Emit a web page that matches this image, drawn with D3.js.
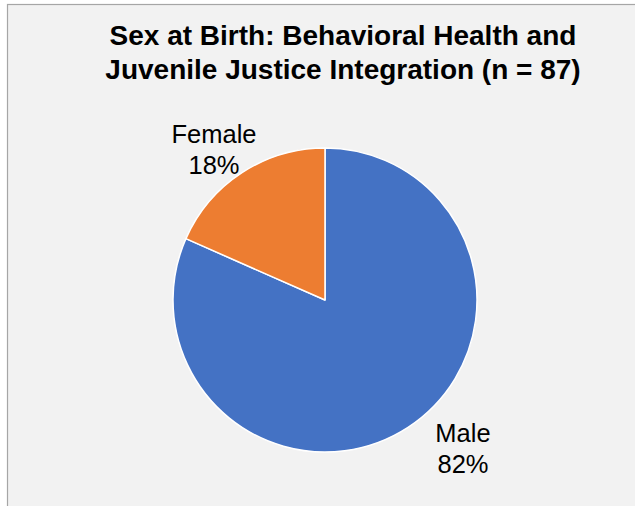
<!DOCTYPE html>
<html>
<head>
<meta charset="utf-8">
<script src="https://cdn.jsdelivr.net/npm/d3@7"></script>
<style>
  html, body { margin: 0; padding: 0; background: #ffffff; }
  svg { display: block; }
</style>
</head>
<body>
<svg id="chart" width="635" height="506"></svg>
<script>
// chart data (n = 87)
const categories = ["Male", "Female"]
const counts = [71, 16]
const colors = ["#4472c4", "#ed7d31"]
const titleLines = ["Sex at Birth: Behavioral Health and", "Juvenile Justice Integration (n = 87)"]

const width = 635, height = 506
const svg = d3.select("#chart")

// background panel with border (runs off right & bottom edge)
svg.append("rect")
    .attr("x", 7.5).attr("y", 4.5)
    .attr("width", width).attr("height", height)
    .attr("fill", "#f2f2f2")
    .attr("stroke", "#a6a6a6")
    .attr("stroke-width", 1.2)

// title
svg.append("text")
    .attr("x", 343).attr("y", 45)
    .attr("text-anchor", "middle")
    .style("font-family", "Liberation Sans, Arial, sans-serif")
    .style("font-weight", "bold")
    .style("font-size", "28px")
    .attr("fill", "#000")
    .selectAll("tspan")
    .data(titleLines)
    .enter()
    .append("tspan")
    .attr("x", 343)
    .attr("dy", (d, i) => i === 0 ? 0 : 33.5)
    .text(d => d)

// pie
const cx = 325, cy = 300, radius = 152
const total = d3.sum(counts)
const data = categories.map((c, i) => ({label: c, value: counts[i], color: colors[i]}))

const pie = d3.pie()
    .value(d => d.value)
    .sort(null)

const arc = d3.arc()
    .innerRadius(0)
    .outerRadius(radius)

const g = svg.append("g")
    .attr("transform", `translate(${cx},${cy})`)

g.selectAll("path")
    .data(pie(data))
    .enter()
    .append("path")
    .attr("d", arc)
    .attr("fill", d => d.data.color)
    .attr("stroke", "#ffffff")
    .attr("stroke-width", 1.5)
    .attr("stroke-linejoin", "round")

// outside labels (positioned like the original, outside the slices)
const labelPos = {Male: [463 - cx, 442 - cy], Female: [214 - cx, 143 - cy]}

const labels = g.selectAll("text.lbl")
    .data(pie(data))
    .enter()
    .append("text")
    .attr("class", "lbl")
    .attr("text-anchor", "middle")
    .style("font-family", "Liberation Sans, Arial, sans-serif")
    .style("font-size", "25.5px")
    .attr("fill", "#000")
    .attr("transform", d => `translate(${labelPos[d.data.label][0]},${labelPos[d.data.label][1]})`)

labels.append("tspan")
    .attr("x", 0).attr("dy", 0)
    .text(d => d.data.label)

labels.append("tspan")
    .attr("x", 0).attr("dy", 31)
    .text(d => Math.round(d.data.value / total * 100) + "%")
</script>
</body>
</html>
